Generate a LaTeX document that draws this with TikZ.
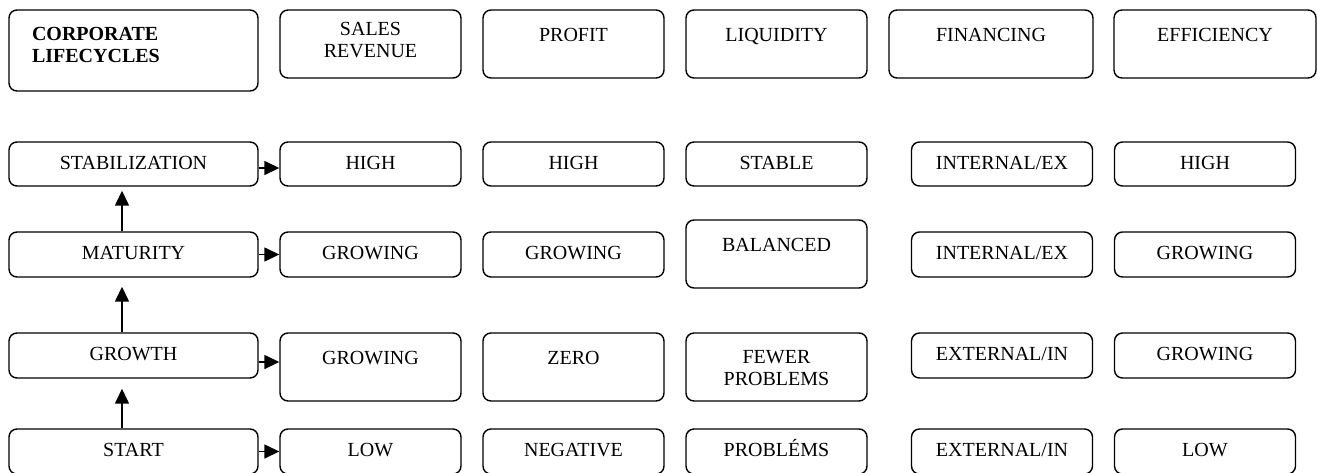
\documentclass[tikz,border=0pt]{standalone}
\usepackage{fontspec}
\setmainfont{Liberation Serif}
\usepackage{tikz}
\usetikzlibrary{arrows.meta}
\tikzset{>={Triangle[length=15pt,width=14pt]},
    roundbox/.style={draw, line width=1.4pt, rounded corners=8pt, inner sep=0pt,
        align=center, font=\fontsize{20}{22}\selectfont},
    stage/.style={roundbox, text height=14pt, text depth=4pt},
    tallbox/.style={roundbox, text height=14pt, text depth=19pt}}

\begin{document}
\begin{tikzpicture}[x=1pt, y=-1pt,
      wide/.style={minimum width=181pt, minimum height=45pt},
      link/.style={->, line width=1.5pt}]
  \useasboundingbox (0,0) rectangle (1317,472);
  % Headings
  \node[roundbox, minimum width=249pt, minimum height=81pt, text width=203pt, align=left,
        text height=14pt, text depth=34pt,
        font=\fontsize{20}{22}\selectfont\bfseries] (corp) at (133.5,50.5) {CORPORATE\\LIFECYCLES};
  \node[roundbox, minimum width=181pt, minimum height=68pt, text height=36pt, text depth=9pt]
        (sales) at (370.5,44) {SALES\\REVENUE};
  \node[tallbox, minimum width=181pt, minimum height=68pt] (profit) at (573.5,44) {PROFIT};
  \node[tallbox, minimum width=181pt, minimum height=68pt] (liquid) at (776.5,44) {LIQUIDITY};
  \node[tallbox, minimum width=204pt, minimum height=68pt] (financing) at (991,44) {FINANCING};
  \node[tallbox, minimum width=202pt, minimum height=68pt] (efficiency) at (1215,44) {EFFICIENCY};
  % Stages
  \node[stage, minimum width=249pt, minimum height=44pt] (stab) at (133.5,164) {STABILIZATION};
  \node[stage, minimum width=249pt, minimum height=45pt] (matur) at (133.5,254.5) {MATURITY};
  \node[stage, minimum width=249pt, minimum height=45pt] (growth) at (133.5,355.5) {GROWTH};
  \node[stage, minimum width=249pt, minimum height=45pt] (start) at (133.5,451.5) {START};
  % Stabilization row
  \node[stage, wide, minimum height=44pt] (stab-sales) at (370.5,164) {HIGH};
  \node[stage, wide, minimum height=44pt] (stab-profit) at (573.5,164) {HIGH};
  \node[stage, wide, minimum height=44pt] (stab-liquid) at (776.5,164) {STABLE};
  \node[stage, wide, minimum height=44pt] (stab-fin) at (1002,164) {INTERNAL/EX};
  \node[stage, wide, minimum height=44pt] (stab-eff) at (1205,164) {HIGH};
  % Maturity row
  \node[stage, wide] (matur-sales) at (370.5,254.5) {GROWING};
  \node[stage, wide] (matur-profit) at (573.5,254.5) {GROWING};
  \node[tallbox, wide, minimum height=68pt] (matur-liquid) at (776.5,254) {BALANCED};
  \node[stage, wide] (matur-fin) at (1002,254.5) {INTERNAL/EX};
  \node[stage, wide] (matur-eff) at (1205,254.5) {GROWING};
  % Growth row
  \node[tallbox, wide, minimum height=68pt] (growth-sales) at (370.5,367) {GROWING};
  \node[tallbox, wide, minimum height=68pt] (growth-profit) at (573.5,367) {ZERO};
  \node[roundbox, wide, minimum height=68pt, text height=36pt, text depth=0pt]
        (growth-liquid) at (776.5,367) {FEWER\\PROBLEMS};
  \node[stage, wide] (growth-fin) at (1002,355.5) {EXTERNAL/IN};
  \node[stage, wide] (growth-eff) at (1205,355.5) {GROWING};
  % Start row
  \node[stage, wide] (start-sales) at (370.5,451.5) {LOW};
  \node[stage, wide] (start-profit) at (573.5,451.5) {NEGATIVE};
  \node[stage, wide] (start-liquid) at (776.5,451.5) {PROBLÉMS};
  \node[stage, wide] (start-fin) at (1002,451.5) {EXTERNAL/IN};
  \node[stage, wide] (start-eff) at (1205,451.5) {LOW};
  % Stage sequence
  \draw[link] ([xshift=-11.5pt]start.north) -- ([xshift=-11.5pt, yshift=-10pt]growth.south);
  \draw[link] ([xshift=-11.5pt]growth.north) -- ([xshift=-11.5pt, yshift=-9pt]matur.south);
  \draw[link] ([xshift=-11.5pt]matur.north) -- ([xshift=-11.5pt, yshift=-4pt]stab.south);
  % Stage to sales revenue
  \draw[link] ([yshift=-4pt]stab.east) -- ([yshift=-4pt]stab.east -| stab-sales.west);
  \draw[link] (matur.east) -- (matur.east -| matur-sales.west);
  \draw[link] ([yshift=-6.5pt]growth.east) -- ([yshift=-6.5pt]growth.east -| growth-sales.west);
  \draw[link] (start.east) -- (start.east -| start-sales.west);
\end{tikzpicture}
\end{document}
